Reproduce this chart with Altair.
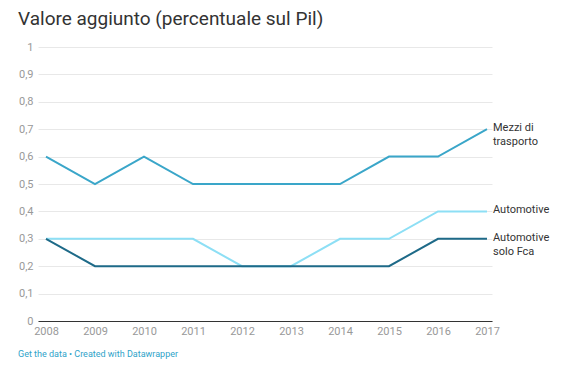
import altair as alt
import pandas as pd

years = [2008, 2009, 2010, 2011, 2012, 2013, 2014, 2015, 2016, 2017]
mezzi = [0.6, 0.5, 0.6, 0.5, 0.5, 0.5, 0.5, 0.6, 0.6, 0.7]
automotive = [0.3, 0.3, 0.3, 0.3, 0.2, 0.2, 0.3, 0.3, 0.4, 0.4]
fca = [0.3, 0.2, 0.2, 0.2, 0.2, 0.2, 0.2, 0.2, 0.3, 0.3]
series_names = ["Mezzi di trasporto", "Automotive", "Automotive solo Fca"]
series_labels = [["Mezzi di", "trasporto"], ["Automotive"], ["Automotive", "solo Fca"]]
colors = ["#3aa6c9", "#8ddff5", "#1e6a88"]
y_ticks = [0, 0.1, 0.2, 0.3, 0.4, 0.5, 0.6, 0.7, 0.8, 0.9, 1]
title_text = "Valore aggiunto (percentuale sul Pil)"
footer_text = "Get the data • Created with Datawrapper"

rows = []
for name, vals in zip(series_names, [mezzi, automotive, fca]):
    for y, v in zip(years, vals):
        rows.append({"year": y, "value": v, "series": name})
df = pd.DataFrame(rows)

last = pd.DataFrame({
    "year": [years[-1]] * 3,
    "value": [mezzi[-1], automotive[-1], fca[-1]],
    "series": series_names,
    "label": series_labels,
})

W, H = 454, 274
FONT = "Roboto"

x = alt.X("year:Q", scale=alt.Scale(domain=[2007.837, 2017.102], nice=False, zero=False),
          axis=alt.Axis(values=years, format="d", title=None, grid=False, ticks=False,
                        domain=True, domainColor="#333333", domainWidth=1,
                        labelColor="#999999", labelFontSize=11, labelFont=FONT,
                        labelPadding=4, labelOverlap=False))
y = alt.Y("value:Q", scale=alt.Scale(domain=[0, 1], nice=False),
          axis=alt.Axis(values=y_ticks, title=None, ticks=False, domain=False,
                        gridColor="#e8e8e8", gridWidth=1, labelOverlap=False,
                        labelExpr="replace(format(datum.value, '.1~f'), '.', ',')",
                        labelColor="#999999", labelFontSize=11, labelFont=FONT,
                        labelPadding=5))
color = alt.Color("series:N", scale=alt.Scale(domain=series_names, range=colors), legend=None)

lines = alt.Chart(df).mark_line(strokeWidth=2).encode(x=x, y=y, color=color)

labels = alt.Chart(last).mark_text(align="left", baseline="top", dx=6, dy=-7,
                                   fontSize=11, font=FONT, color="#333333",
                                   lineHeight=14).encode(
    x=x, y=y, text="label"
)

title = alt.Chart(pd.DataFrame({"t": [title_text]})).mark_text(
    align="left", baseline="alphabetic", fontSize=19, font=FONT, color="#333333"
).encode(x=alt.value(-20), y=alt.value(-22), text="t:N")

footer = alt.Chart(pd.DataFrame({"t": [footer_text]})).mark_text(
    align="left", baseline="alphabetic", fontSize=9, font=FONT, color="#2fa3c9"
).encode(x=alt.value(-20), y=alt.value(310), text="t:N")

chart = alt.layer(lines, labels, title, footer).properties(
    width=W, height=H,
    background="white",
    autosize=alt.AutoSizeParams(type="none"),
    padding={"left": 30, "top": 39, "right": 65, "bottom": 39},
).configure_view(strokeWidth=0, stroke="transparent")

chart.save("out.html", embed_options={"renderer": "svg", "actions": False})
